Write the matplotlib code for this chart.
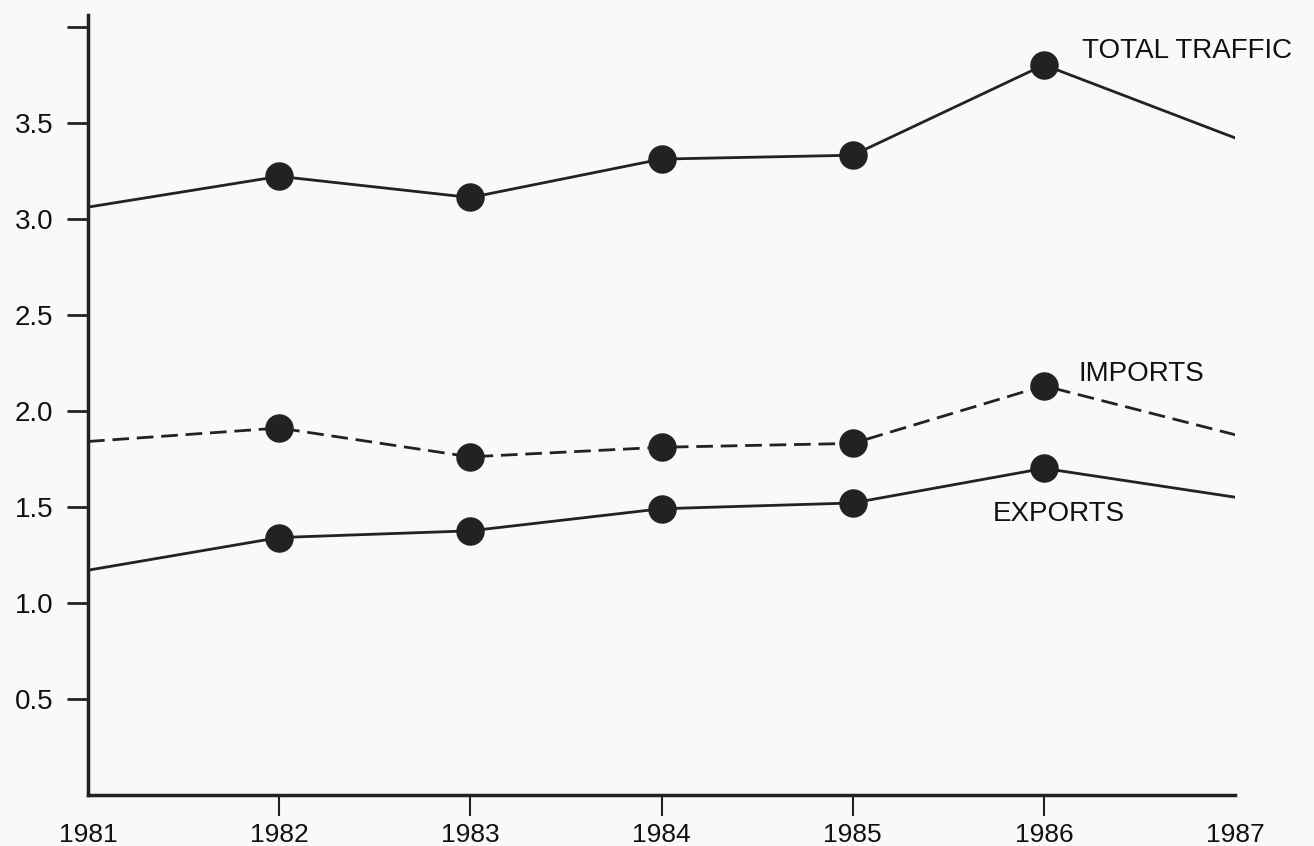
import matplotlib.pyplot as plt

# values
years = [1981, 1982, 1983, 1984, 1985, 1986, 1987]
total_traffic = [3.06, 3.22, 3.11, 3.31, 3.33, 3.80, 3.42]
imports = [1.84, 1.91, 1.76, 1.81, 1.83, 2.13, 1.875]
exports = [1.17, 1.34, 1.375, 1.49, 1.52, 1.70, 1.55]
y_ticks = [0.5, 1.0, 1.5, 2.0, 2.5, 3.0, 3.5, 4.0]
y_tick_labels = ['0.5', '1.0', '1.5', '2.0', '2.5', '3.0', '3.5', '']

plt.rcParams['font.family'] = ['Liberation Sans', 'DejaVu Sans']
INK = '#222222'

fig = plt.figure(figsize=(13.14, 8.46), dpi=100)
fig.patch.set_facecolor('#f8f9fa')
ax = fig.add_axes([0.067, 0.0603, 0.873, 0.922])
ax.set_facecolor('#f8f9fa')

# lines span all years, dots only on the inner years
ax.plot(years, total_traffic, '-', color=INK, lw=2.0, zorder=2)
ax.plot(years, imports, color=INK, lw=2.0, dashes=(6, 2.8), zorder=2)
ax.plot(years, exports, '-', color=INK, lw=2.0, zorder=2)
for series in (total_traffic, imports, exports):
    ax.plot(years[1:-1], series[1:-1], 'o', color=INK, ms=19.5, zorder=3, clip_on=False)

ax.text(1986.2, 3.87, 'TOTAL TRAFFIC', fontsize=20, color='#111111', va='center', ha='left')
ax.text(1986.18, 2.19, 'IMPORTS', fontsize=20, color='#111111', va='center', ha='left')
ax.text(1985.73, 1.465, 'EXPORTS', fontsize=20, color='#111111', va='center', ha='left')

ax.set_xlim(1981, 1987)
ax.set_ylim(0, 4.06)
ax.set_xticks(years)
ax.set_xticklabels([str(y) for y in years], fontsize=19)
ax.set_yticks(y_ticks)
ax.set_yticklabels(y_tick_labels, fontsize=20)
ax.tick_params(axis='y', direction='out', length=15, width=2, color=INK, pad=10, labelcolor='#111111')
ax.tick_params(axis='x', direction='out', length=15, width=1.5, color=INK, pad=5, labelcolor='#111111')
ticks = ax.xaxis.get_major_ticks()
ticks[0].tick1line.set_visible(False)
ticks[-1].tick1line.set_visible(False)

for side in ('top', 'right'):
    ax.spines[side].set_visible(False)
for side in ('left', 'bottom'):
    ax.spines[side].set_linewidth(2.5)
    ax.spines[side].set_color(INK)

fig.savefig('out.png', dpi=100, facecolor=fig.get_facecolor())
